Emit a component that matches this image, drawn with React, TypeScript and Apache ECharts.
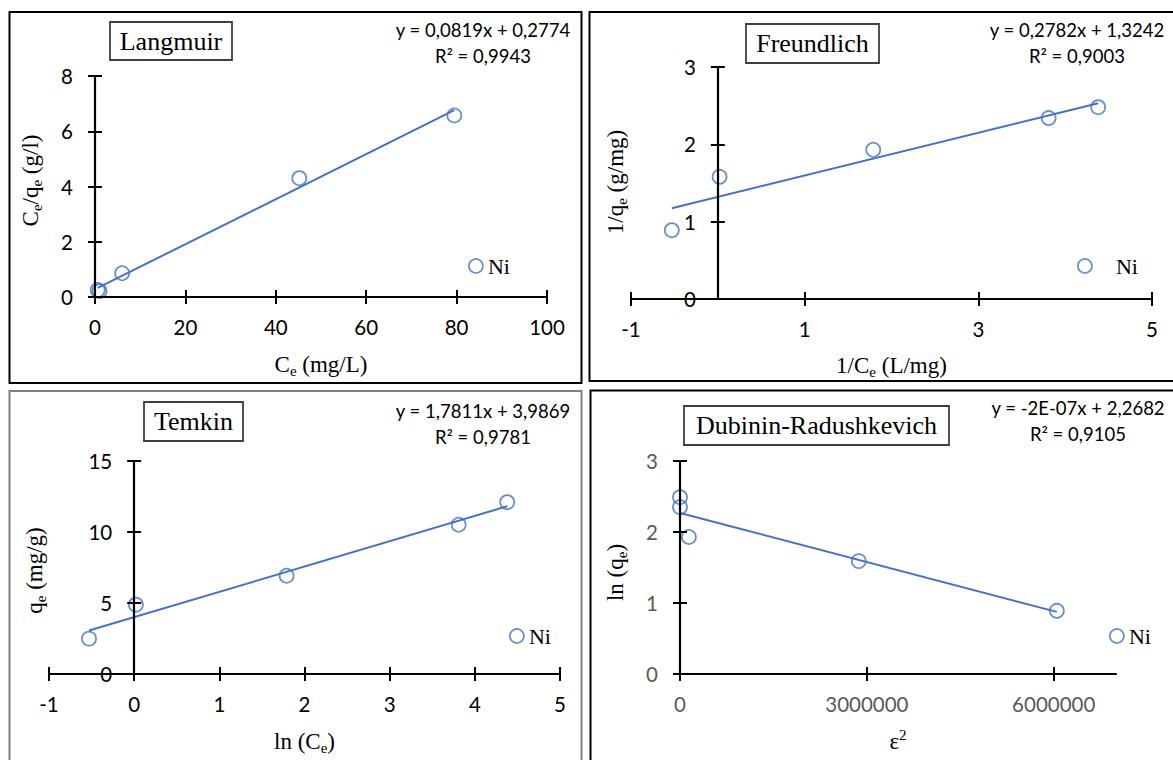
import React, { useEffect, useRef } from "react";
import * as echarts from "echarts";

// ---------------- Data ----------------
const seriesName = "Ni";

const langmuirCe = [0.6, 1.0, 6.0, 45.2, 79.5];
const langmuirCeQe = [0.25, 0.21, 0.86, 4.3, 6.57];
const langmuirXTicks = [0, 20, 40, 60, 80, 100];
const langmuirYTicks = [0, 2, 4, 6, 8];

const freundlichInvCe = [-0.53, 0.02, 1.79, 3.81, 4.38];
const freundlichInvQe = [0.89, 1.58, 1.93, 2.34, 2.48];
const freundlichXTicks = [-1, 1, 3, 5];
const freundlichYTicks = [0, 1, 2, 3];

const temkinLnCe = [-0.53, 0.02, 1.79, 3.81, 4.38];
const temkinQe = [2.49, 4.88, 6.92, 10.51, 12.1];
const temkinXTicks = [-1, 0, 1, 2, 3, 4, 5];
const temkinYTicks = [0, 5, 10, 15];

const drEps2 = [0, 0, 143000, 2870000, 6050000];
const drLnQe = [2.49, 2.35, 1.93, 1.59, 0.89];
const drXTicks = [0, 3000000, 6000000];
const drYTicks = [0, 1, 2, 3];

const titles = ["Langmuir", "Freundlich", "Temkin", "Dubinin-Radushkevich"];
const equations = [
  "y = 0,0819x + 0,2774",
  "y = 0,2782x + 1,3242",
  "y = 1,7811x + 3,9869",
  "y = -2E-07x + 2,2682",
];
const rSquared = ["R² = 0,9943", "R² = 0,9003", "R² = 0,9781", "R² = 0,9105"];

// ---------------- Styling / layout ----------------
const BLUE = "#4472C4";
const SERIF = "'Liberation Serif', 'Times New Roman', serif";
const SANS = "Lato, 'Open Sans', sans-serif";

type Panel = {
  xs: number[];
  ys: number[];
  xTicks: number[];
  yTicks: number[];
  xRange: [number, number];
  yRange: [number, number];
  grid: { left: number; top: number; width: number; height: number };
  xName: string;
  yName: string;
  xNameGap: number;
  yNameGap: number;
  yNamePad: number[];
  labelColor: string;
  legend: { left: number; top: number; textPad: number };
  eqX: number;
  eqY: [number, number];
  titleBox: { x: number; y: number; w: number; h: number };
  frame: { x: number; y: number; w: number; h: number; color: string };
};

const panels: Panel[] = [
  {
    xs: langmuirCe,
    ys: langmuirCeQe,
    xTicks: langmuirXTicks,
    yTicks: langmuirYTicks,
    xRange: [0, 100],
    yRange: [0, 8],
    grid: { left: 95, top: 76, width: 452, height: 221 },
    xName: "{a|C}{s|e}{a| (mg/L)}",
    yName: "{a|C}{s|e}{a|/q}{s|e}{a| (g/l)}",
    xNameGap: 53,
    yNameGap: 51,
    yNamePad: [0, 0, 0, 12],
    labelColor: "#000",
    legend: { left: 468, top: 254, textPad: 0 },
    eqX: 483,
    eqY: [30, 56],
    titleBox: { x: 110, y: 22, w: 122, h: 38 },
    frame: { x: 9.5, y: 12, w: 572, h: 371, color: "#000" },
  },
  {
    xs: freundlichInvCe,
    ys: freundlichInvQe,
    xTicks: freundlichXTicks,
    yTicks: freundlichYTicks,
    xRange: [-1, 5],
    yRange: [0, 3],
    grid: { left: 631, top: 67, width: 521, height: 232 },
    xName: "{a|1/C}{s|e}{a| (L/mg)}",
    yName: "{a|1/q}{s|e}{a| (g/mg)}",
    xNameGap: 52,
    yNameGap: 88,
    yNamePad: [0, 0, 0, 2],
    labelColor: "#000",
    legend: { left: 1077, top: 254, textPad: 19 },
    eqX: 1077,
    eqY: [30, 56],
    titleBox: { x: 746, y: 24, w: 133, h: 39 },
    frame: { x: 589.5, y: 12, w: 600, h: 369, color: "#000" },
  },
  {
    xs: temkinLnCe,
    ys: temkinQe,
    xTicks: temkinXTicks,
    yTicks: temkinYTicks,
    xRange: [-1, 5],
    yRange: [0, 15],
    grid: { left: 49, top: 461, width: 511, height: 213 },
    xName: "{a|ln (C}{s|e}{a|)}",
    yName: "{a|q}{s|e}{a| (mg/g)}",
    xNameGap: 53,
    yNameGap: 86,
    yNamePad: [0, 6, 0, 0],
    labelColor: "#000",
    legend: { left: 509, top: 624, textPad: 0 },
    eqX: 483,
    eqY: [411, 437],
    titleBox: { x: 144, y: 402, w: 99, h: 39 },
    frame: { x: 9.5, y: 391, w: 572, h: 400, color: "#808080" },
  },
  {
    xs: drEps2,
    ys: drLnQe,
    xTicks: drXTicks,
    yTicks: drYTicks,
    xRange: [0, 7000000],
    yRange: [0, 3],
    grid: { left: 680, top: 461, width: 436, height: 213 },
    xName: "{a|ε}{p|2}",
    yName: "{a|ln (q}{s|e}{a|)}",
    xNameGap: 53,
    yNameGap: 51,
    yNamePad: [0, 10, 0, 0],
    labelColor: "#595959",
    legend: { left: 1109, top: 624, textPad: 0 },
    eqX: 1078,
    eqY: [408, 434],
    titleBox: { x: 684, y: 406, w: 265, h: 39 },
    frame: { x: 590.5, y: 390.5, w: 600, h: 400, color: "#000" },
  },
];

function linearFit(xs: number[], ys: number[]): [number, number] {
  const n = xs.length;
  const mx = xs.reduce((a, b) => a + b, 0) / n;
  const my = ys.reduce((a, b) => a + b, 0) / n;
  let sxy = 0;
  let sxx = 0;
  for (let i = 0; i < n; i++) {
    sxy += (xs[i] - mx) * (ys[i] - my);
    sxx += (xs[i] - mx) * (xs[i] - mx);
  }
  const slope = sxy / sxx;
  return [slope, my - slope * mx];
}

const nameRich = {
  a: { fontFamily: SERIF, fontSize: 23, lineHeight: 28, color: "#000" },
  s: { fontFamily: SERIF, fontSize: 15, lineHeight: 10, color: "#000", verticalAlign: "bottom" },
  p: { fontFamily: SERIF, fontSize: 15, lineHeight: 10, color: "#000", verticalAlign: "top" },
};

function buildOption() {
  const grid: any[] = [];
  const xAxis: any[] = [];
  const yAxis: any[] = [];
  const series: any[] = [];
  const legend: any[] = [];
  const graphic: any[] = [];

  panels.forEach((p, i) => {
    grid.push({ ...p.grid, containLabel: false, outerBoundsMode: "none" });

    // the vertical axis crosses the horizontal one at x = 0
    const yOffset =
      p.xRange[0] < 0 ? -(p.grid.width * (0 - p.xRange[0])) / (p.xRange[1] - p.xRange[0]) : 0;

    const axisLineStyle = { color: "#000", width: 2.2 };
    const tickStyle = { color: "#000", width: 2 };
    const labelStyle = {
      fontFamily: SANS,
      fontSize: 20.5,
      color: p.labelColor,
      formatter: (v: number) => String(v),
    };

    // primary x
    xAxis.push({
      type: "value",
      gridIndex: i,
      position: "bottom",
      min: p.xRange[0],
      max: p.xRange[1],
      axisLine: { show: true, onZero: false, lineStyle: axisLineStyle },
      axisTick: { show: true, inside: false, length: 7, lineStyle: tickStyle, customValues: p.xTicks },
      axisLabel: { ...labelStyle, margin: 19, customValues: p.xTicks },
      splitLine: { show: false },
      name: p.xName,
      nameLocation: "middle",
      nameGap: p.xNameGap,
      nameTextStyle: { rich: nameRich },
      z: 4,
    });
    // secondary x (inner half of the crossing ticks)
    xAxis.push({
      type: "value",
      gridIndex: i,
      position: "bottom",
      min: p.xRange[0],
      max: p.xRange[1],
      axisLine: { show: false, onZero: false },
      axisTick: { show: true, inside: true, length: 7, lineStyle: tickStyle, customValues: p.xTicks },
      axisLabel: { show: false },
      splitLine: { show: false },
      z: 4,
    });
    // primary y
    yAxis.push({
      type: "value",
      gridIndex: i,
      position: "left",
      offset: yOffset,
      min: p.yRange[0],
      max: p.yRange[1],
      axisLine: { show: true, onZero: false, lineStyle: axisLineStyle },
      axisTick: { show: true, inside: false, length: 7, lineStyle: tickStyle, customValues: p.yTicks },
      axisLabel: { ...labelStyle, margin: 22, customValues: p.yTicks },
      splitLine: { show: false },
      name: p.yName,
      nameLocation: "middle",
      nameGap: p.yNameGap,
      nameTextStyle: { rich: nameRich, padding: p.yNamePad },
      z: 4,
    });
    // secondary y
    yAxis.push({
      type: "value",
      gridIndex: i,
      position: "left",
      offset: yOffset,
      min: p.yRange[0],
      max: p.yRange[1],
      axisLine: { show: false, onZero: false },
      axisTick: { show: true, inside: true, length: 7, lineStyle: tickStyle, customValues: p.yTicks },
      axisLabel: { show: false },
      splitLine: { show: false },
      z: 4,
    });

    const [slope, intercept] = linearFit(p.xs, p.ys);
    const x0 = Math.min(...p.xs);
    const x1 = Math.max(...p.xs);

    series.push({
      type: "line",
      name: "Linear (" + seriesName + ")",
      xAxisIndex: 2 * i,
      yAxisIndex: 2 * i,
      data: [
        [x0, slope * x0 + intercept],
        [x1, slope * x1 + intercept],
      ],
      symbol: "none",
      showSymbol: false,
      lineStyle: { color: BLUE, width: 2 },
      z: 2,
      silent: true,
    });
    series.push({
      type: "scatter",
      name: seriesName,
      xAxisIndex: 2 * i,
      yAxisIndex: 2 * i,
      data: p.xs.map((x, j) => [x, p.ys[j]]),
      symbol: "circle",
      symbolSize: 14,
      itemStyle: { color: "rgba(255,255,255,0)", borderColor: BLUE, borderWidth: 1.8 },
      emphasis: { disabled: true },
      clip: false,
      z: 3,
    });

    legend.push({
      data: [seriesName],
      left: p.legend.left,
      top: p.legend.top,
      padding: 0,
      icon: "circle",
      itemWidth: 14,
      itemHeight: 14,
      selectedMode: false,
      itemStyle: { color: "rgba(255,255,255,0)", borderColor: BLUE, borderWidth: 1.8 },
      textStyle: {
        fontFamily: SERIF,
        fontSize: 22,
        lineHeight: 24,
        color: "#000",
        padding: [0, 0, 0, p.legend.textPad],
      },
    });

    // panel frame
    graphic.push({
      type: "rect",
      silent: true,
      shape: { x: p.frame.x, y: p.frame.y, width: p.frame.w, height: p.frame.h },
      style: { fill: "none", stroke: p.frame.color, lineWidth: 2 },
      z: 1,
    });
    // title box
    graphic.push({
      type: "rect",
      silent: true,
      shape: { x: p.titleBox.x, y: p.titleBox.y, width: p.titleBox.w, height: p.titleBox.h },
      style: { fill: "#fff", stroke: "#404040", lineWidth: 1.8 },
      z: 5,
    });
    graphic.push({
      type: "text",
      silent: true,
      x: p.titleBox.x + p.titleBox.w / 2,
      y: p.titleBox.y + p.titleBox.h / 2,
      style: {
        text: titles[i],
        fontFamily: SERIF,
        fontSize: 26,
        fill: "#000",
        align: "center",
        verticalAlign: "middle",
        textAlign: "center",
        textVerticalAlign: "middle",
      },
      z: 6,
    });
    // trendline equation and R²
    [equations[i], rSquared[i]].forEach((t, k) => {
      graphic.push({
        type: "text",
        silent: true,
        x: p.eqX,
        y: p.eqY[k],
        style: {
          text: t,
          fontFamily: SANS,
          fontSize: 18.5,
          fill: "#000",
          align: "center",
          verticalAlign: "middle",
          textAlign: "center",
          textVerticalAlign: "middle",
        },
        z: 6,
      });
    });
  });

  return {
    animation: false,
    backgroundColor: "#fff",
    grid,
    xAxis,
    yAxis,
    series,
    legend,
    graphic: { elements: graphic },
  };
}

export default function App() {
  const ref = useRef<HTMLDivElement>(null);
  useEffect(() => {
    if (!ref.current) return;
    const chart = echarts.init(ref.current, undefined, { renderer: "svg" });
    chart.setOption(buildOption() as any);
    return () => chart.dispose();
  }, []);
  return (
    <div
      ref={ref}
      style={{ position: "fixed", left: 0, top: 0, width: 1173, height: 760, background: "#fff" }}
    />
  );
}
